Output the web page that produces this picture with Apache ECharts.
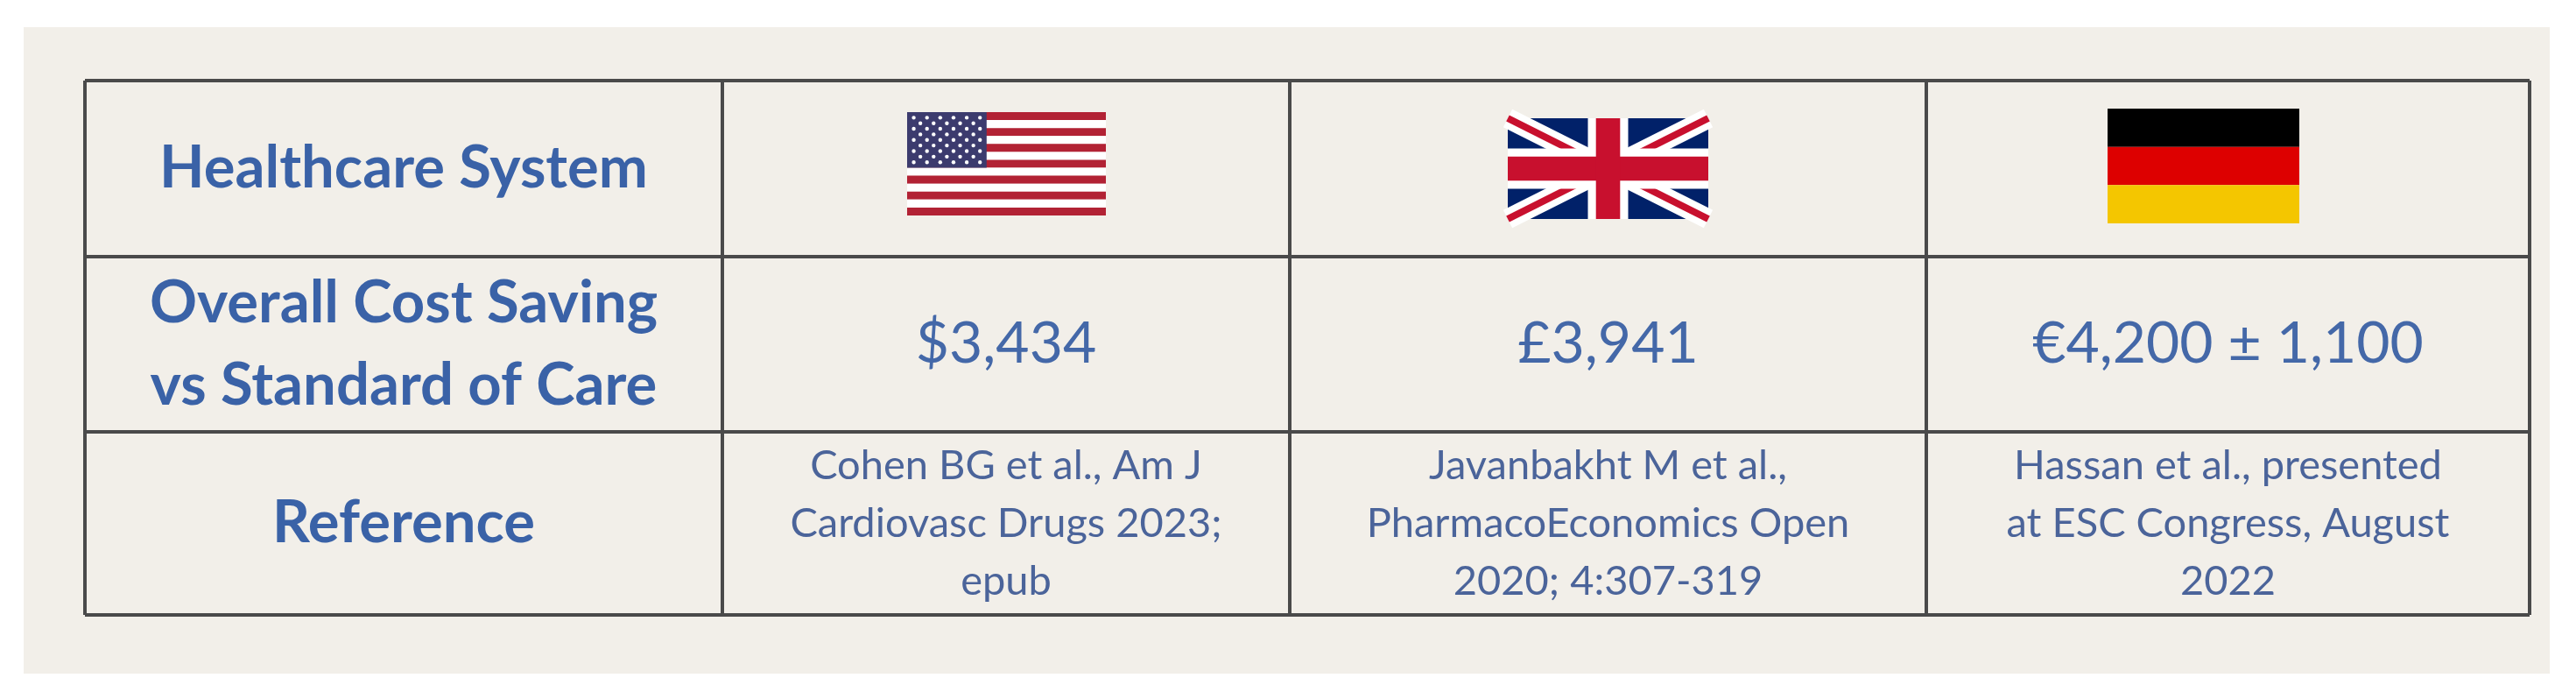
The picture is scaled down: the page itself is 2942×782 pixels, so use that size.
<!DOCTYPE html>
<html>
<head>
<meta charset="utf-8">
<script src="https://cdn.jsdelivr.net/npm/echarts@6/dist/echarts.min.js"></script>
<style>
  html, body { margin: 0; padding: 0; background: #ffffff; }
  #chart { width: 2942px; height: 782px; }
</style>
</head>
<body>
<div id="chart"></div>
<script>
"use strict";

//
// Table content
//
const row_labels = ["Healthcare System", "Overall Cost Saving\nvs Standard of Care", "Reference"];
const countries = ["USA", "UK", "Germany"];
const cost_savings = ["$3,434", "£3,941", "€4,200 ± 1,100"];
const references = [
  "Cohen BG et al., Am J\nCardiovasc Drugs 2023;\nepub",
  "Javanbakht M et al.,\nPharmacoEconomics Open\n2020; 4:307-319",
  "Hassan et al., presented\nat ESC Congress, August\n2022",
];

// layout of the table
const col_edges = [97, 825, 1473, 2200, 2889];
const row_edges = [92, 293, 493, 702];

const c_head = "#3a62a7";
const c_val = "#4468a8";
const c_ref = "#4b649a";
const c_line = "#4a4a4a";
const font = "Lato, 'Open Sans', sans-serif";

const els = [];

// background panel
els.push({ type: "rect", shape: { x: 27, y: 31, width: 2885, height: 738 }, style: { fill: "#f2efe9" }, z: 0 });

// grid lines
for (const x of col_edges) {
  els.push({ type: "line", shape: { x1: x, y1: row_edges[0], x2: x, y2: row_edges[3] }, style: { stroke: c_line, lineWidth: 4 }, z: 5 });
}
for (const y of row_edges) {
  els.push({ type: "line", shape: { x1: col_edges[0], y1: y, x2: col_edges[4], y2: y }, style: { stroke: c_line, lineWidth: 4 }, z: 5 });
}

function cell_center(col, row) {
  return [(col_edges[col] + col_edges[col + 1]) / 2, (row_edges[row] + row_edges[row + 1]) / 2];
}

function add_text(col, row, text, size, weight, color, lh) {
  const [cx, cy] = cell_center(col, row);
  els.push({
    type: "text", x: cx, y: cy, z: 10,
    style: { text: text, fill: color, font: `${weight} ${size}px ${font}`, align: "center", verticalAlign: "middle", lineHeight: lh },
  });
}

// row labels
row_labels.forEach((t, i) => add_text(0, i, t, 67, "bold", c_head, 94));
// cost saving values
cost_savings.forEach((t, i) => add_text(i + 1, 1, t, 66, "normal", c_val, 70));
// references
references.forEach((t, i) => add_text(i + 1, 2, t, 47, "normal", c_ref, 66));

//
// Flags
//
function flag_us(x, y, w, h) {
  const sh = h / 13;
  for (let i = 0; i < 13; i++) {
    els.push({ type: "rect", shape: { x: x, y: y + i * sh, width: w, height: sh }, style: { fill: i % 2 === 0 ? "#b22234" : "#ffffff" }, z: 8 });
  }
  const cw = w * 0.4, ch = sh * 7;
  els.push({ type: "rect", shape: { x: x, y: y, width: cw, height: ch }, style: { fill: "#3c3b6e" }, z: 9 });
  for (let r = 0; r < 9; r++) {
    const n = r % 2 === 0 ? 6 : 5;
    for (let c = 0; c < n; c++) {
      const sx = x + cw / 12 * (r % 2 === 0 ? 1 + 2 * c : 2 + 2 * c);
      const sy = y + ch / 10 * (r + 1);
      els.push({ type: "circle", shape: { cx: sx, cy: sy, r: 2.2 }, style: { fill: "#ffffff" }, z: 10 });
    }
  }
}

function flag_uk(x, y, w, h) {
  els.push({ type: "rect", shape: { x: x, y: y, width: w, height: h }, style: { fill: "#012169" }, z: 8 });
  const diag = [[x, y, x + w, y + h], [x + w, y, x, y + h]];
  for (const d of diag) {
    els.push({ type: "line", shape: { x1: d[0], y1: d[1], x2: d[2], y2: d[3] }, style: { stroke: "#ffffff", lineWidth: h * 0.2 }, z: 9 });
  }
  for (const d of diag) {
    els.push({ type: "line", shape: { x1: d[0], y1: d[1], x2: d[2], y2: d[3] }, style: { stroke: "#c8102e", lineWidth: h * 0.07 }, z: 9 });
  }
  els.push({ type: "rect", shape: { x: x, y: y + h * 0.3, width: w, height: h * 0.4 }, style: { fill: "#ffffff" }, z: 9 });
  els.push({ type: "rect", shape: { x: x + w / 2 - h * 0.2, y: y, width: h * 0.4, height: h }, style: { fill: "#ffffff" }, z: 9 });
  els.push({ type: "rect", shape: { x: x, y: y + h * 0.38, width: w, height: h * 0.24 }, style: { fill: "#c8102e" }, z: 10 });
  els.push({ type: "rect", shape: { x: x + w / 2 - h * 0.12, y: y, width: h * 0.24, height: h }, style: { fill: "#c8102e" }, z: 10 });
}

function flag_de(x, y, w, h) {
  const colors = ["#000000", "#dd0000", "#f4c600"];
  colors.forEach((c, i) => {
    els.push({ type: "rect", shape: { x: x, y: y + i * h / 3, width: w, height: h / 3 }, style: { fill: c }, z: 8 });
  });
}

flag_us(1036, 128, 227, 118);
flag_uk(1722, 135, 229, 115);
flag_de(2407, 124, 219, 131);

const chart = echarts.init(document.getElementById("chart"));
chart.setOption({
  backgroundColor: "#ffffff",
  animation: false,
  graphic: { elements: els },
});
</script>
</body>
</html>
